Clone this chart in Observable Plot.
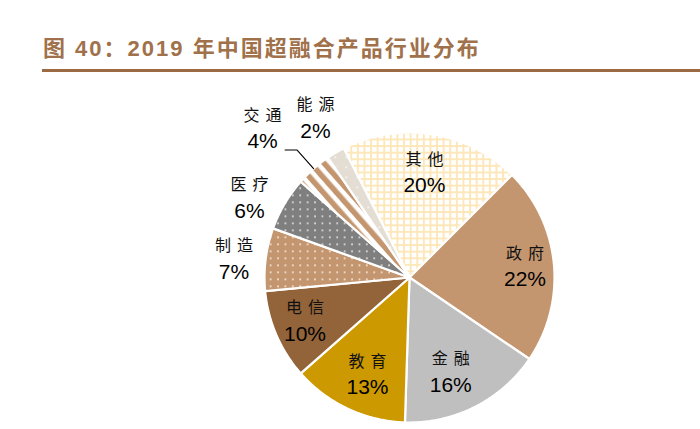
<!DOCTYPE html>
<html>
<head>
<meta charset="utf-8">
<script src="https://cdn.jsdelivr.net/npm/d3@7"></script>
<script src="https://cdn.jsdelivr.net/npm/@observablehq/plot@0.6"></script>
<style>
  html, body { margin: 0; padding: 0; background: #fff; }
  #wrap { position: relative; width: 700px; height: 429px; overflow: hidden; }
  #title { position: absolute; left: 43px; top: 30px; font: bold 22px "Liberation Sans", "Noto Sans CJK SC", sans-serif;
           letter-spacing: 2px; color: #a0714a; white-space: nowrap; }
  #rule { position: absolute; left: 42px; top: 69px; width: 658px; height: 3px; background: #9b6a43; }
  #chart { position: absolute; left: 0; top: 72px; }
</style>
</head>
<body>
<div id="wrap">
  <div id="title">图 40：2019 年中国超融合产品行业分布</div>
  <div id="rule"></div>
  <div id="chart"></div>
</div>
<svg width="0" height="0" style="position:absolute">
  <defs>
    <pattern id="pGrid" width="6.6" height="6.6" patternUnits="userSpaceOnUse">
      <rect width="6.6" height="6.6" fill="#ffffff"/>
      <rect x="0" y="0" width="6.6" height="1.9" fill="#fde7b9"/>
      <rect x="0" y="0" width="1.9" height="6.6" fill="#fde7b9"/>
    </pattern>
    <pattern id="pDotsTan" width="7.4" height="7" patternUnits="userSpaceOnUse">
      <rect width="7.4" height="7" fill="#c4966f"/>
      <rect x="3" y="3" width="1.5" height="1.5" fill="#ffffff"/>
    </pattern>
    <pattern id="pDotsGrey" width="7.4" height="7" patternUnits="userSpaceOnUse">
      <rect width="7.4" height="7" fill="#7f7f7f"/>
      <rect x="3" y="3" width="1.5" height="1.5" fill="#ffffff"/>
    </pattern>
    <pattern id="pDotsLight" width="11" height="10" patternUnits="userSpaceOnUse">
      <rect width="11" height="10" fill="#e3ddd3"/>
      <rect x="4" y="4" width="1.5" height="1.5" fill="#ffffff"/>
    </pattern>
    <pattern id="pStripes" width="10" height="10" patternUnits="userSpaceOnUse" patternTransform="rotate(-41.4)">
      <rect width="10" height="10" fill="#ffffff"/>
      <rect x="0" y="0" width="5.5" height="10" fill="#c4966f"/>
    </pattern>
  </defs>
</svg>
<script>
// ---- data ----
const categories = ["其他", "政府", "金融", "教育", "电信", "制造", "医疗", "交通", "能源"];
const values     = [20, 22, 16, 13, 10, 7, 6, 4, 2];
const pctLabels  = ["20%", "22%", "16%", "13%", "10%", "7%", "6%", "4%", "2%"];

// ---- styles / layout ----
const fills = ["url(#pGrid)", "#c4966f", "#bfbfbf", "#cc9900", "#936339",
               "url(#pDotsTan)", "url(#pDotsGrey)", "url(#pStripes)", "url(#pDotsLight)"];
const startDeg = -27;                 // first slice starts 27° left of 12 o'clock, clockwise
const labelR   = [0.73, 0.80, 0.71, 0.73, 0.78, 1.217, 1.232, 1.443, 1.277];
const labelA   = [8.1, 84.6, 156.4, 203.4, 247.5, 276.0, 296.4, 315.4, 329.5];
const cx = 409, cy = 205, R = 145, W = 700, H = 357;

const total = d3.sum(values);
const rad = d => d * Math.PI / 180;
const polar = (r, deg) => ({x: r * Math.sin(rad(deg)), y: r * Math.cos(rad(deg))});

// slice polygons
const rows = [];
const mids = [];
let a0 = startDeg;
categories.forEach((c, i) => {
  const a1 = a0 + values[i] / total * 360;
  mids.push((a0 + a1) / 2);
  rows.push({cat: c, fill: fills[i], x: 0, y: 0});
  const n = Math.max(2, Math.ceil((a1 - a0) / 0.5));
  for (let k = 0; k <= n; k++) {
    const p = polar(1, a0 + (a1 - a0) * k / n);
    rows.push({cat: c, fill: fills[i], x: p.x, y: p.y});
  }
  rows.push({cat: c, fill: fills[i], x: 0, y: 0});
  a0 = a1;
});

// labels
const labels = categories.map((c, i) => ({name: c, pct: pctLabels[i], ...polar(labelR[i], labelA[i])}));

// leader line for 交通
const iT = categories.indexOf("交通");
const pEnd = polar(1.0, mids[iT]);
const pElbow = polar(1.172, mids[iT]);
const leader = [{x: pElbow.x - 12 / R, y: pElbow.y}, pElbow, pEnd];

const chart = Plot.plot({
  width: W,
  height: H,
  margin: 0,
  x: {domain: [-1, 1], range: [cx - R, cx + R], axis: null},
  y: {domain: [-1, 1], range: [cy + R, cy - R], axis: null},
  color: {type: "identity"},
  style: {background: "transparent", overflow: "visible"},
  marks: [
    Plot.line(rows, {x: "x", y: "y", z: "cat", fill: "fill", stroke: "#ffffff", strokeWidth: 2.2,
                     strokeLinejoin: "round", curve: "linear"}),
    Plot.line(leader, {x: "x", y: "y", stroke: "#000000", strokeWidth: 1.1}),
    Plot.text(labels, {x: "x", y: "y", text: "name", dy: -13, fontSize: 16,
                       fontFamily: "Noto Sans CJK SC", fill: "#111111"}),
    Plot.text(labels, {x: "x", y: "y", text: "pct", dy: 13, fontSize: 21,
                       fontFamily: "Liberation Sans", fill: "#000000"})
  ]
});
document.getElementById("chart").appendChild(chart);
d3.select(chart).selectAll('g[font-family="Noto Sans CJK SC"] text')
  .attr("letter-spacing", "6px").attr("dx", 3);
</script>
</body>
</html>
